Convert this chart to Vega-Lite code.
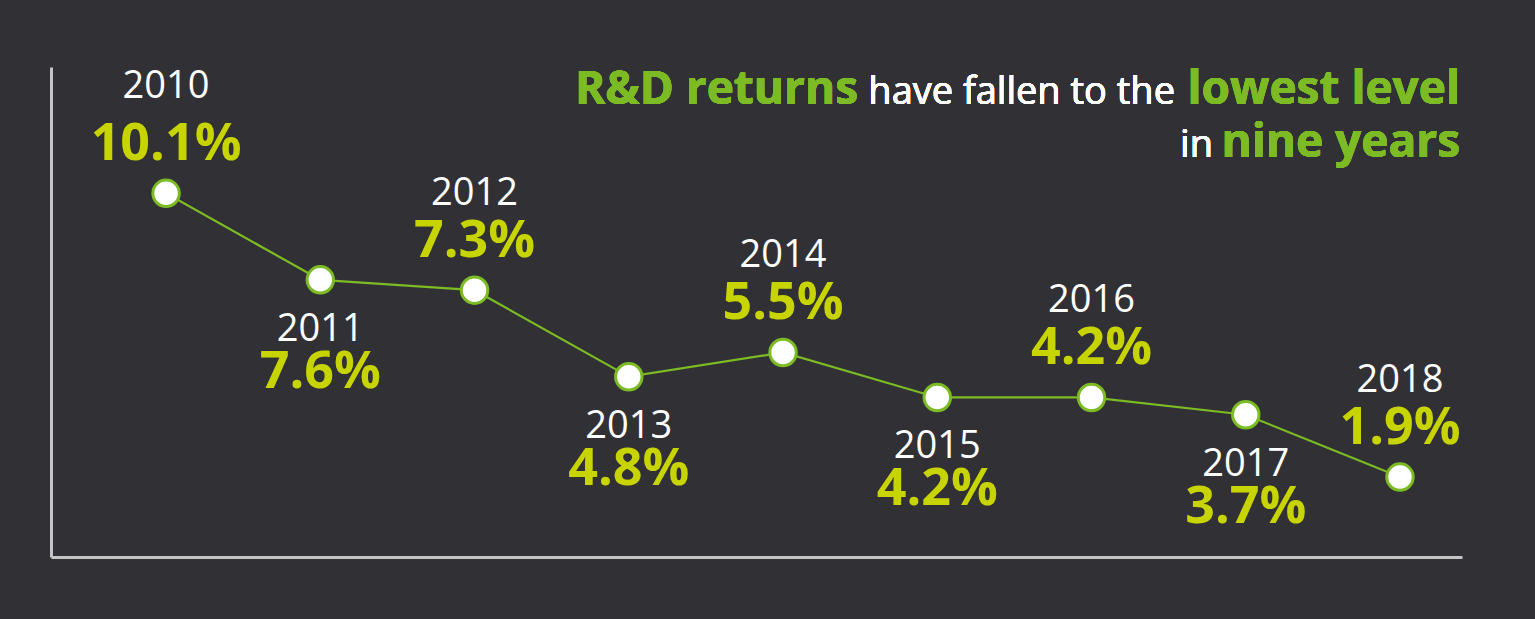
{
  "$schema": "https://vega.github.io/schema/vega-lite/v6.json",
  "autosize": "none",
  "width": 1411,
  "height": 490,
  "padding": {"left": 51, "top": 67, "right": 73, "bottom": 62},
  "background": "#303035",
  "config": {"view": {"stroke": null}, "font": "Open Sans"},
  "data": {"values": [
    {"year": 2010, "value": 0.101},
    {"year": 2011, "value": 0.076},
    {"year": 2012, "value": 0.073},
    {"year": 2013, "value": 0.048},
    {"year": 2014, "value": 0.055},
    {"year": 2015, "value": 0.042},
    {"year": 2016, "value": 0.042},
    {"year": 2017, "value": 0.037},
    {"year": 2018, "value": 0.019}
  ]},
  "encoding": {
    "x": {"field": "year", "type": "quantitative", "scale": {"domain": [2009.254, 2018.402], "nice": false, "zero": false},
      "axis": {"title": null, "labels": false, "ticks": false, "grid": false, "domainColor": "#c4c4c4", "domainWidth": 3}},
    "y": {"field": "value", "type": "quantitative", "scale": {"domain": [-0.0041, 0.1375], "nice": false, "zero": false},
      "axis": {"title": null, "labels": false, "ticks": false, "grid": false, "domainColor": "#c4c4c4", "domainWidth": 3}}
  },
  "layer": [
    {"mark": {"type": "line", "color": "#7cbb24", "strokeWidth": 2.2}},
    {"mark": {"type": "point", "shape": "circle", "filled": false, "fill": "#ffffff", "fillOpacity": 1, "stroke": "#7cbb24", "strokeWidth": 3, "size": 700, "opacity": 1}},
    {"transform": [{"filter": "datum.year % 2 == 0 && datum.year != 2010"}],
     "mark": {"type": "text", "color": "#ffffff", "fontSize": 38, "align": "center", "baseline": "alphabetic", "dy": -85},
     "encoding": {"text": {"field": "year", "type": "nominal"}}},
    {"transform": [{"filter": "datum.year == 2010"}],
     "mark": {"type": "text", "color": "#ffffff", "fontSize": 38, "align": "center", "baseline": "alphabetic", "dy": -95},
     "encoding": {"text": {"field": "year", "type": "nominal"}}},
    {"transform": [{"filter": "datum.year % 2 == 0"}],
     "mark": {"type": "text", "color": "#c8d400", "fontSize": 52, "fontWeight": "bold", "align": "center", "baseline": "alphabetic", "dy": -33, "letterSpacing": -2},
     "encoding": {"text": {"field": "value", "type": "quantitative", "format": ".1%"}}},
    {"transform": [{"filter": "datum.year % 2 == 1"}],
     "mark": {"type": "text", "color": "#ffffff", "fontSize": 38, "align": "center", "baseline": "alphabetic", "dy": 61},
     "encoding": {"text": {"field": "year", "type": "nominal"}}},
    {"transform": [{"filter": "datum.year % 2 == 1"}],
     "mark": {"type": "text", "color": "#c8d400", "fontSize": 52, "fontWeight": "bold", "align": "center", "baseline": "alphabetic", "dy": 108, "letterSpacing": -2},
     "encoding": {"text": {"field": "value", "type": "quantitative", "format": ".1%"}}},
    {"mark": {"type": "text", "text": "lowest level", "color": "#7cbb24", "fontSize": 46, "fontWeight": "bold", "align": "right", "baseline": "alphabetic", "dx": -2},
     "encoding": {"x": {"datum": 2018.402}, "y": {"datum": 0.1268}}},
    {"mark": {"type": "text", "text": "have fallen to the", "color": "#ffffff", "fontSize": 38, "align": "right", "baseline": "alphabetic", "dx": -287},
     "encoding": {"x": {"datum": 2018.402}, "y": {"datum": 0.1268}}},
    {"mark": {"type": "text", "text": "R&D returns", "color": "#7cbb24", "fontSize": 46, "fontWeight": "bold", "align": "right", "baseline": "alphabetic", "dx": -604},
     "encoding": {"x": {"datum": 2018.402}, "y": {"datum": 0.1268}}},
    {"mark": {"type": "text", "text": "nine years", "color": "#7cbb24", "fontSize": 46, "fontWeight": "bold", "align": "right", "baseline": "alphabetic", "dx": -2},
     "encoding": {"x": {"datum": 2018.402}, "y": {"datum": 0.1115}}},
    {"mark": {"type": "text", "text": "in", "color": "#ffffff", "fontSize": 38, "align": "right", "baseline": "alphabetic", "dx": -249},
     "encoding": {"x": {"datum": 2018.402}, "y": {"datum": 0.1115}}}
  ]
}
